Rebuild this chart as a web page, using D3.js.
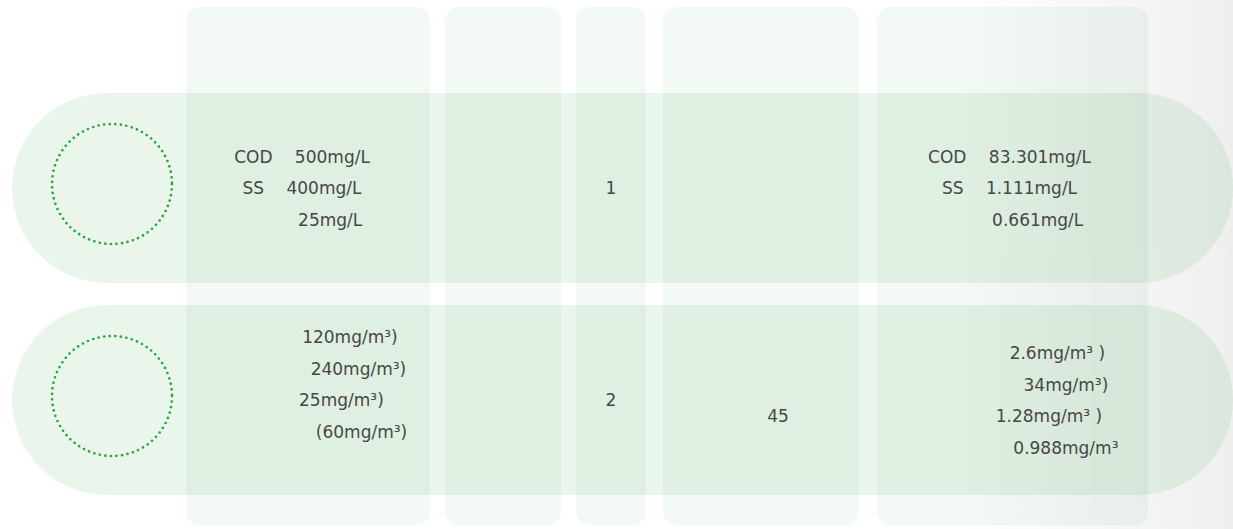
<!DOCTYPE html>
<html>
<head>
<meta charset="utf-8">
<script src="https://cdn.jsdelivr.net/npm/d3@7"></script>
<style>
  html, body { margin: 0; padding: 0; background: #fff; }
  svg text { white-space: pre; }
</style>
</head>
<body>
<div class="chart"></div>
<script>
var svgWidth = 1233;
var svgHeight = 529;

// Data (blank ideographic spaces stand in for glyphs that did not render)
var rowKeys = ["water", "gas"];
var influentWater = ["COD\u3000 500mg/L", "SS\u3000 400mg/L", "\u3000\u3000\u3000 25mg/L"];
var influentGas = [
  "\u3000\u3000\u3000\u3000\u3000  120mg/m³)",
  "\u3000\u3000\u3000\u3000\u3000\u3000  240mg/m³)",
  "\u3000\u3000\u3000\u3000  25mg/m³)",
  "\u3000\u3000\u3000\u3000\u3000\u3000\u3000(60mg/m³)",
  "\u3000"
];
var stageNo = ["1", "2"];
var stageValue = [[], ["\u3000", "\u3000\u300045"]];
var effluentWater = ["COD\u3000 83.301mg/L", "SS\u3000 1.111mg/L", "\u3000\u3000\u3000 0.661mg/L"];
var effluentGas = [
  "\u3000\u3000\u3000\u3000\u3000  2.6mg/m³ )",
  "\u3000\u3000\u3000\u3000\u3000\u3000  34mg/m³)",
  "\u3000\u3000\u3000\u3000  1.28mg/m³ )",
  "\u3000\u3000\u3000\u3000\u3000\u3000  0.988mg/m³"
];

// Column layout
var colX = [186, 445, 576, 663, 877];
var colW = [244, 116, 70, 196, 271];
var textShift = [-6, 0, 0, 0, -3];
var colTop = 7, colBottom = 525;
var lineGap = 31.5;

var svg = d3.select(".chart")
  .append("svg")
  .attr("width", svgWidth)
  .attr("height", svgHeight);

var defs = svg.append("defs");
var grad = defs.append("linearGradient")
  .attr("id", "bg")
  .attr("x1", "0").attr("x2", "1").attr("y1", "0").attr("y2", "0");
grad.append("stop").attr("offset", "0.78").attr("stop-color", "#ffffff");
grad.append("stop").attr("offset", "1").attr("stop-color", "#efefef");

svg.append("rect")
  .attr("width", svgWidth)
  .attr("height", svgHeight)
  .attr("fill", "url(#bg)");

// Scales
var xScale = d3.scaleLinear().domain([0, svgWidth]).range([0, svgWidth]);
var yScale = d3.scaleBand()
  .domain(rowKeys)
  .range([93, 495])
  .paddingInner(22 / 212);

var band = yScale.bandwidth();

// Row pills
svg.append("g").selectAll("rect")
  .data(rowKeys)
  .enter()
  .append("rect")
  .attr("x", xScale(12))
  .attr("y", d => yScale(d))
  .attr("width", xScale(1233) - xScale(12))
  .attr("height", band)
  .attr("rx", band / 2)
  .attr("fill", "rgba(46,160,67,0.10)");

// Columns
svg.append("g").selectAll("rect")
  .data(colX)
  .enter()
  .append("rect")
  .attr("x", (d, i) => xScale(d))
  .attr("y", colTop)
  .attr("width", (d, i) => colW[i])
  .attr("height", colBottom - colTop)
  .attr("rx", 14)
  .attr("fill", "rgba(46,160,67,0.06)");

// Dotted circles
svg.append("g").selectAll("circle")
  .data(rowKeys)
  .enter()
  .append("circle")
  .attr("cx", xScale(112))
  .attr("cy", d => yScale(d) + band / 2 - 4)
  .attr("r", 60)
  .attr("fill", "none")
  .attr("stroke", "#1faa3a")
  .attr("stroke-width", 2.7)
  .attr("stroke-linecap", "round")
  .attr("stroke-dasharray", "0 5.6");

// Text blocks
var blocks = [
  { col: 0, row: "water", lines: influentWater },
  { col: 0, row: "gas", lines: influentGas },
  { col: 2, row: "water", lines: [stageNo[0]] },
  { col: 2, row: "gas", lines: [stageNo[1]] },
  { col: 3, row: "water", lines: stageValue[0] },
  { col: 3, row: "gas", lines: stageValue[1] },
  { col: 4, row: "water", lines: effluentWater },
  { col: 4, row: "gas", lines: effluentGas }
];

var textG = svg.append("g")
  .attr("font-family", "'DejaVu Sans', 'Noto Sans CJK SC', sans-serif")
  .attr("font-size", 17)
  .attr("fill", "#474747");

blocks.forEach(function(b) {
  var cx = xScale(colX[b.col] + colW[b.col] / 2 + textShift[b.col]);
  var cy = yScale(b.row) + band / 2 + 0.5;
  var n = b.lines.length;
  textG.selectAll(null)
    .data(b.lines)
    .enter()
    .append("text")
    .attr("xml:space", "preserve")
    .attr("x", cx)
    .attr("y", (d, i) => cy + (i - (n - 1) / 2) * lineGap)
    .attr("dy", "0.35em")
    .attr("text-anchor", "middle")
    .text(d => d);
});
</script>
</body>
</html>
